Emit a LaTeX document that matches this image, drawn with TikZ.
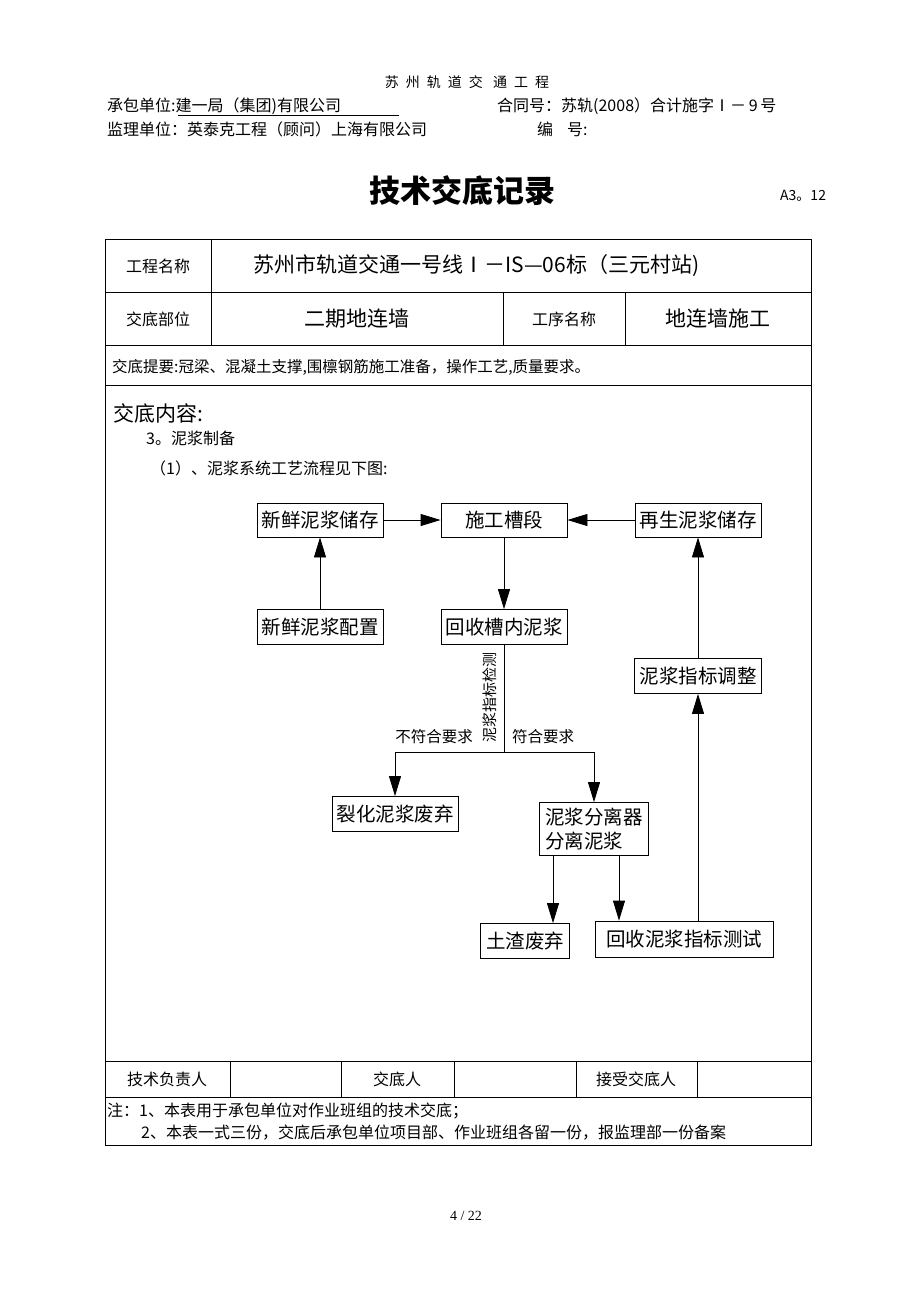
\documentclass[tikz,border=0pt]{standalone}
\usepackage{fontspec}
\setmainfont{Noto Sans CJK SC}
\newfontfamily\pagefont{Liberation Serif}
\newfontfamily\widecjk[LetterSpace=50]{Noto Sans CJK SC}
\usetikzlibrary{arrows.meta}
\newcommand{\fsz}[1]{\fontsize{#1}{#1}\selectfont}
\tikzset{
  flowbox/.style={draw, line width=0.8pt, inner sep=0pt, font=\fsz{19.5}},
  flowarrow/.style={line width=0.8pt, -{Triangle[length=20pt,width=12pt]}},
  rule/.style={line width=0.8pt},
  txt/.style={inner sep=0pt, anchor=west, font=\fsz{16}},
  cell/.style={inner sep=0pt, font=\fsz{16}},
  big/.style={inner sep=0pt, font=\fsz{21}},
}

\begin{document}
\begin{tikzpicture}[x=1pt,y=-1pt]
\useasboundingbox[fill=white] (0,0) rectangle (920,1302);

% page head
\node[inner sep=0pt, font=\widecjk\fsz{14}] (project) at (467,82) {苏州轨道交\ 通工程};
\node[txt] (contractor) at (107,106) {承包单位:建一局（集团)有限公司};
\draw[line width=0.7pt] (178,115) -- (399,115);
\node[txt] (contract) at (497,106) {合同号：苏轨(2008）合计施字Ⅰ－\,9\,号};
\node[txt] (supervisor) at (107,129) {监理单位：英泰克工程（顾问）上海有限公司};
\node[txt] (serial) at (537,129) {编\hspace{14pt}号:};
\node[inner sep=0pt, font=\fsz{31}\bfseries] (title) at (462,191) {技术交底记录};
\node[inner sep=0pt, anchor=west, font=\fsz{14}] (code) at (780,196) {A3。12};

% table frame
\draw[rule] (105,239) rectangle (811,1145);
\foreach \y in {292,345,385,1061,1097}
  \draw[rule] (105,\y) -- (811,\y);
\draw[rule] (211,239) -- (211,345);
\draw[rule] (503,292) -- (503,345);
\draw[rule] (625,292) -- (625,345);
\foreach \x in {230,341,454,576,697}
  \draw[rule] (\x,1061) -- (\x,1097);

% table texts
\node[cell] (namelbl) at (158,266) {工程名称};
\node[big, anchor=west] (name) at (253,266) {苏州市轨道交通一号线Ⅰ－IS—06标（三元村站)};
\node[cell] (partlbl) at (158,319) {交底部位};
\node[big] (part) at (357,319) {二期地连墙};
\node[cell] (steplbl) at (564,319) {工序名称};
\node[big] (stepname) at (718,319) {地连墙施工};
\node[txt, font=\fsz{15.5}] (brief) at (112,367) {交底提要:冠梁、混凝土支撑,围檩钢筋施工准备，操作工艺,质量要求。};
\node[txt, font=\fsz{21}] (content) at (113,413) {交底内容:};
\node[txt] (item) at (146,438) {3。泥浆制备};
\node[txt] (sub) at (150,468) {（1）、泥浆系统工艺流程见下图:};

% flow chart
\node[flowbox, minimum width=126pt, minimum height=34pt] (fresh) at (320,520) {新鲜泥浆储存};
\node[flowbox, minimum width=126pt, minimum height=34pt] (site) at (504,520) {施工槽段};
\node[flowbox, minimum width=126pt, minimum height=34pt] (regen) at (698,520) {再生泥浆储存};
\node[flowbox, minimum width=126pt, minimum height=35pt] (mix) at (320,627) {新鲜泥浆配置};
\node[flowbox, minimum width=126pt, minimum height=35pt] (recov) at (504,627) {回收槽内泥浆};
\node[flowbox, minimum width=127pt, minimum height=35pt] (adjust) at (698,676) {泥浆指标调整};
\node[flowbox, minimum width=126pt, minimum height=35pt] (waste) at (395,814) {裂化泥浆废弃};
\node[flowbox, minimum width=109pt, minimum height=53pt, align=left, font=\fontsize{19.5}{24}\selectfont] (sep) at (594,829) {泥浆分离器\\分离泥浆};
\node[flowbox, minimum width=89pt, minimum height=35pt] (slag) at (525,941) {土渣废弃};
\node[flowbox, minimum width=178pt, minimum height=36pt] (test) at (684,939) {回收泥浆指标测试};

\draw[flowarrow] (fresh) -- (site);
\draw[flowarrow] (regen) -- (site);
\draw[flowarrow] (site) -- (recov);
\draw[flowarrow] (mix) -- (fresh);
\draw[flowarrow] (adjust) -- (regen);
\draw[flowarrow] (test.north -| adjust) -- (adjust.south);

\coordinate (split) at (504,752);
\draw[rule] (recov) -- (split);
\draw[flowarrow] (split) -| (waste.north);
\draw[flowarrow] (split) -| (sep.north);
\coordinate (sepl) at ([xshift=-41pt]sep.south);
\coordinate (sepr) at ([xshift=25pt]sep.south);
\draw[flowarrow] (sepl) -- (sepl |- slag.north);
\draw[flowarrow] (sepr) -- (sepr |- test.north);

\node[inner sep=0pt, anchor=east, font=\fsz{15.5}] (fail) at (473,737) {不符合要求};
\node[inner sep=0pt, anchor=west, font=\fsz{15.5}] (pass) at (512,737) {符合要求};
\node[inner sep=0pt, rotate=90, font=\fsz{15}] (check) at (490,697) {泥浆指标检测};

% sign row and notes
\node[cell] (tech) at (167,1079) {技术负责人};
\node[cell] (giver) at (397,1079) {交底人};
\node[cell] (taker) at (636,1079) {接受交底人};
\node[txt] (note1) at (107,1111) {注：1、本表用于承包单位对作业班组的技术交底；};
\node[txt] (note2) at (141,1133) {2、本表一式三份，交底后承包单位项目部、作业班组各留一份，报监理部一份备案};

\node[inner sep=0pt, font=\pagefont\fsz{14}] (page) at (466,1216) {4 / 22};
\end{tikzpicture}
\end{document}
